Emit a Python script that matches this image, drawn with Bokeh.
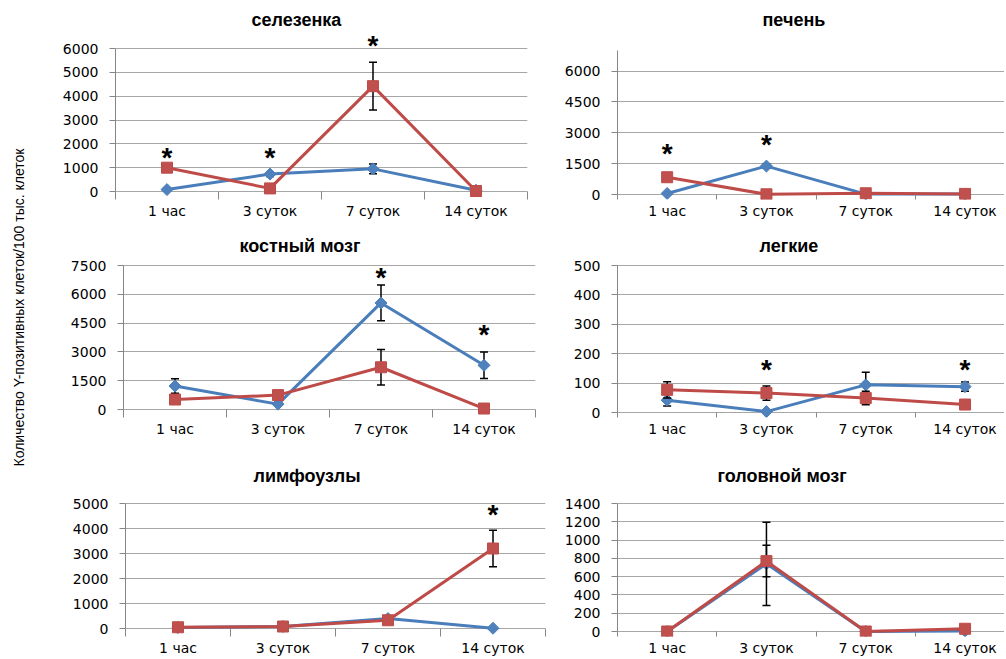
import math
from bokeh.plotting import figure
from bokeh.layouts import row, column
from bokeh.models import FixedTicker, Range1d, Label
from bokeh.core.properties import value
from bokeh.embed import file_html
from bokeh.resources import INLINE

# ---------------- data ----------------
categories = ["1 час", "3 суток", "7 суток", "14 суток"]
y_label = "Количество Y-позитивных клеток/100 тыс. клеток"

titles = ["селезенка", "печень", "костный мозг", "легкие", "лимфоузлы", "головной мозг"]

spleen_blue = [80, 730, 950, 50]
spleen_blue_err = [0, 100, 200, 0]
spleen_red = [1000, 130, 4420, 20]
spleen_red_err = [0, 0, 1000, 0]
spleen_star_cat = [1, 2, 3]
spleen_star_y = [1530, 1490, 6230]
spleen_ticks = [0, 1000, 2000, 3000, 4000, 5000, 6000]
spleen_max = 6000

liver_blue = [50, 1380, 20, 20]
liver_blue_err = [0, 100, 0, 0]
liver_red = [840, 10, 60, 30]
liver_red_err = [0, 0, 0, 0]
liver_star_cat = [1, 2]
liver_star_y = [2100, 2540]
liver_ticks = [0, 1500, 3000, 4500, 6000]
liver_max = 7000

marrow_blue = [1220, 280, 5550, 2300]
marrow_blue_err = [380, 0, 930, 690]
marrow_red = [520, 750, 2200, 50]
marrow_red_err = [0, 0, 930, 0]
marrow_star_cat = [3, 4]
marrow_star_y = [7000, 4000]
marrow_ticks = [0, 1500, 3000, 4500, 6000, 7500]
marrow_max = 7500

lung_blue = [42, 3, 94, 88]
lung_blue_err = [20, 0, 43, 16]
lung_red = [77, 66, 49, 27]
lung_red_err = [28, 24, 23, 0]
lung_star_cat = [2, 4]
lung_star_y = [154, 154]
lung_ticks = [0, 100, 200, 300, 400, 500]
lung_max = 500

lymph_blue = [40, 80, 400, 10]
lymph_blue_err = [0, 0, 0, 0]
lymph_red = [50, 80, 330, 3200]
lymph_red_err = [0, 0, 0, 730]
lymph_star_cat = [4]
lymph_star_y = [4660]
lymph_ticks = [0, 1000, 2000, 3000, 4000, 5000]
lymph_max = 5000

brain_blue = [0, 740, 0, 5]
brain_blue_err = [0, 456, 0, 0]
brain_red = [0, 770, 0, 30]
brain_red_err = [0, 172, 0, 0]
brain_star_cat = []
brain_star_y = []
brain_ticks = [0, 200, 400, 600, 800, 1000, 1200, 1400]
brain_max = 1400

# ---------------- styles ----------------
BLUE_LINE = "#4A7EBB"
BLUE_FILL = "#4F81BD"
RED_LINE = "#BE4B48"
RED_FILL = "#C0504D"
GRID = "#a6a6a6"
AXIS = "#868686"
TICK_FONT = "DejaVu Sans"
TITLE_FONT = "Liberation Sans"

xs = list(range(1, len(categories) + 1))


def panel(title, blue, blue_err, red, red_err, star_cat, star_y, ticks, ymax,
          fig_left, fig_top, fig_w, fig_h, fl, fr, ft, fb, y0, ymax_px, cat_w,
          title_off):
    below = fb - y0                     # px of frame below the zero line
    ppu = (y0 - ymax_px) / ymax
    y_start = -below / ppu
    y_end = (y0 - ft) / ppu
    x_end = 0.5 + (fr - fl) / cat_w
    p = figure(width=fig_w, height=fig_h, x_range=Range1d(0.5, x_end),
               y_range=Range1d(y_start, y_end), toolbar_location=None,
               output_backend="svg", min_border_left=fl - fig_left,
               min_border_right=fig_left + fig_w - fr,
               min_border_top=ft - fig_top,
               min_border_bottom=fig_top + fig_h - fb)
    p.outline_line_color = None
    p.background_fill_color = "white"
    p.border_fill_color = "white"

    p.title.text = title
    p.title.align = "left"
    p.title.offset = title_off
    p.title.standoff = 8
    p.title.text_font = TITLE_FONT
    p.title.text_font_style = "bold"
    p.title.text_font_size = "18px"
    p.title.text_color = "black"

    # x axis
    xt = FixedTicker(ticks=xs, minor_ticks=[0.5, 1.5, 2.5, 3.5, 4.5])
    p.xaxis.ticker = xt
    p.xaxis.major_label_overrides = {x: c for x, c in zip(xs, categories)}
    p.xaxis.axis_line_color = None
    p.xaxis.major_tick_line_color = None
    p.xaxis.major_tick_in = 0
    p.xaxis.major_tick_out = 0
    p.xaxis.minor_tick_in = below
    p.xaxis.minor_tick_out = 0
    p.xaxis.minor_tick_line_color = AXIS
    p.xaxis.major_label_standoff = 3
    p.xaxis.major_label_text_font = TICK_FONT
    p.xaxis.major_label_text_font_size = "14px"
    p.xaxis.major_label_text_color = "black"
    p.xgrid.visible = False

    # y axis
    yt = FixedTicker(ticks=ticks, minor_ticks=[])
    p.yaxis.ticker = yt
    p.yaxis.bounds = (0, ymax)
    p.yaxis.axis_line_color = AXIS
    p.yaxis.major_tick_line_color = AXIS
    p.yaxis.major_tick_in = 0
    p.yaxis.major_tick_out = 6
    p.yaxis.minor_tick_line_color = None
    p.yaxis.major_label_standoff = 11
    p.yaxis.major_label_text_font = TICK_FONT
    p.yaxis.major_label_text_font_size = "14px"
    p.yaxis.major_label_text_color = "black"
    p.ygrid.ticker = yt
    p.ygrid.grid_line_color = GRID
    p.ygrid.grid_line_width = 1

    def errbars(vals, errs):
        ex = [x for x, e in zip(xs, errs) if e > 0]
        lo = [v - e for v, e in zip(vals, errs) if e > 0]
        hi = [v + e for v, e in zip(vals, errs) if e > 0]
        if ex:
            p.segment(x0=ex, y0=lo, x1=ex, y1=hi, line_color="black", line_width=1.5)
            p.scatter(ex + ex, lo + hi, marker="dash", size=8, line_color="black",
                      line_width=1.5)

    errbars(blue, blue_err)
    p.line(xs, blue, line_color=BLUE_LINE, line_width=3)
    p.scatter(xs, blue, marker="square", angle=math.pi / 4, size=8.5,
              fill_color=BLUE_FILL, line_color=BLUE_LINE)
    errbars(red, red_err)
    p.line(xs, red, line_color=RED_LINE, line_width=3)
    p.scatter(xs, red, marker="square", size=11, fill_color=RED_FILL,
              line_color=RED_LINE)

    if star_cat:
        p.text(star_cat, star_y, text=["*"] * len(star_cat), text_align="center",
               text_baseline="middle", y_offset=2, text_font=value(TITLE_FONT),
               text_font_style="bold", text_font_size="28px", text_color="black")
    return p


L0, LW, RW = 48, 512, 444
R0 = L0 + LW
H1, H2, H3 = 224, 220, 214
T1 = 0
T2 = T1 + H1
T3 = T2 + H2
FR = R0 + RW  # right frame edge of the right column

p1 = panel(titles[0], spleen_blue, spleen_blue_err, spleen_red, spleen_red_err,
           spleen_star_cat, spleen_star_y, spleen_ticks, spleen_max,
           L0, T1, LW, H1, 115, 527, 33, 199, 191, 48, 103, 136)
p2 = panel(titles[1], liver_blue, liver_blue_err, liver_red, liver_red_err,
           liver_star_cat, liver_star_y, liver_ticks, liver_max,
           R0, T1, RW, H1, 617, FR, 33, 199, 194, 50, 99.3, 145)
p3 = panel(titles[2], marrow_blue, marrow_blue_err, marrow_red, marrow_red_err,
           marrow_star_cat, marrow_star_y, marrow_ticks, marrow_max,
           L0, T2, LW, H2, 123, 535, 259, 417, 409, 265, 103, 116)
p4 = panel(titles[3], lung_blue, lung_blue_err, lung_red, lung_red_err,
           lung_star_cat, lung_star_y, lung_ticks, lung_max,
           R0, T2, RW, H2, 617, FR, 259, 417, 412, 265, 99.3, 142)
p5 = panel(titles[4], lymph_blue, lymph_blue_err, lymph_red, lymph_red_err,
           lymph_star_cat, lymph_star_y, lymph_ticks, lymph_max,
           L0, T3, LW, H3, 125, 545, 489, 636, 628, 503, 105, 128)
p6 = panel(titles[5], brain_blue, brain_blue_err, brain_red, brain_red_err,
           brain_star_cat, brain_star_y, brain_ticks, brain_max,
           R0, T3, RW, H3, 617, FR, 489, 636, 631, 503, 99.3, 100)

HT = H1 + H2 + H3
lab = figure(width=L0, height=HT, x_range=Range1d(0, L0), y_range=Range1d(0, HT),
             x_axis_type=None, y_axis_type=None, toolbar_location=None,
             output_backend="svg", min_border=0)
lab.outline_line_color = None
lab.grid.visible = False
lab.add_layout(Label(x=18, y=HT - 307, text=y_label, angle=90, angle_units="deg",
                     text_align="center", text_baseline="middle",
                     text_font=TITLE_FONT, text_font_size="14px", text_color="black"))

layout = row(lab, column(row(p1, p2), row(p3, p4), row(p5, p6)))

open("out.html", "w").write(file_html(layout, INLINE))
